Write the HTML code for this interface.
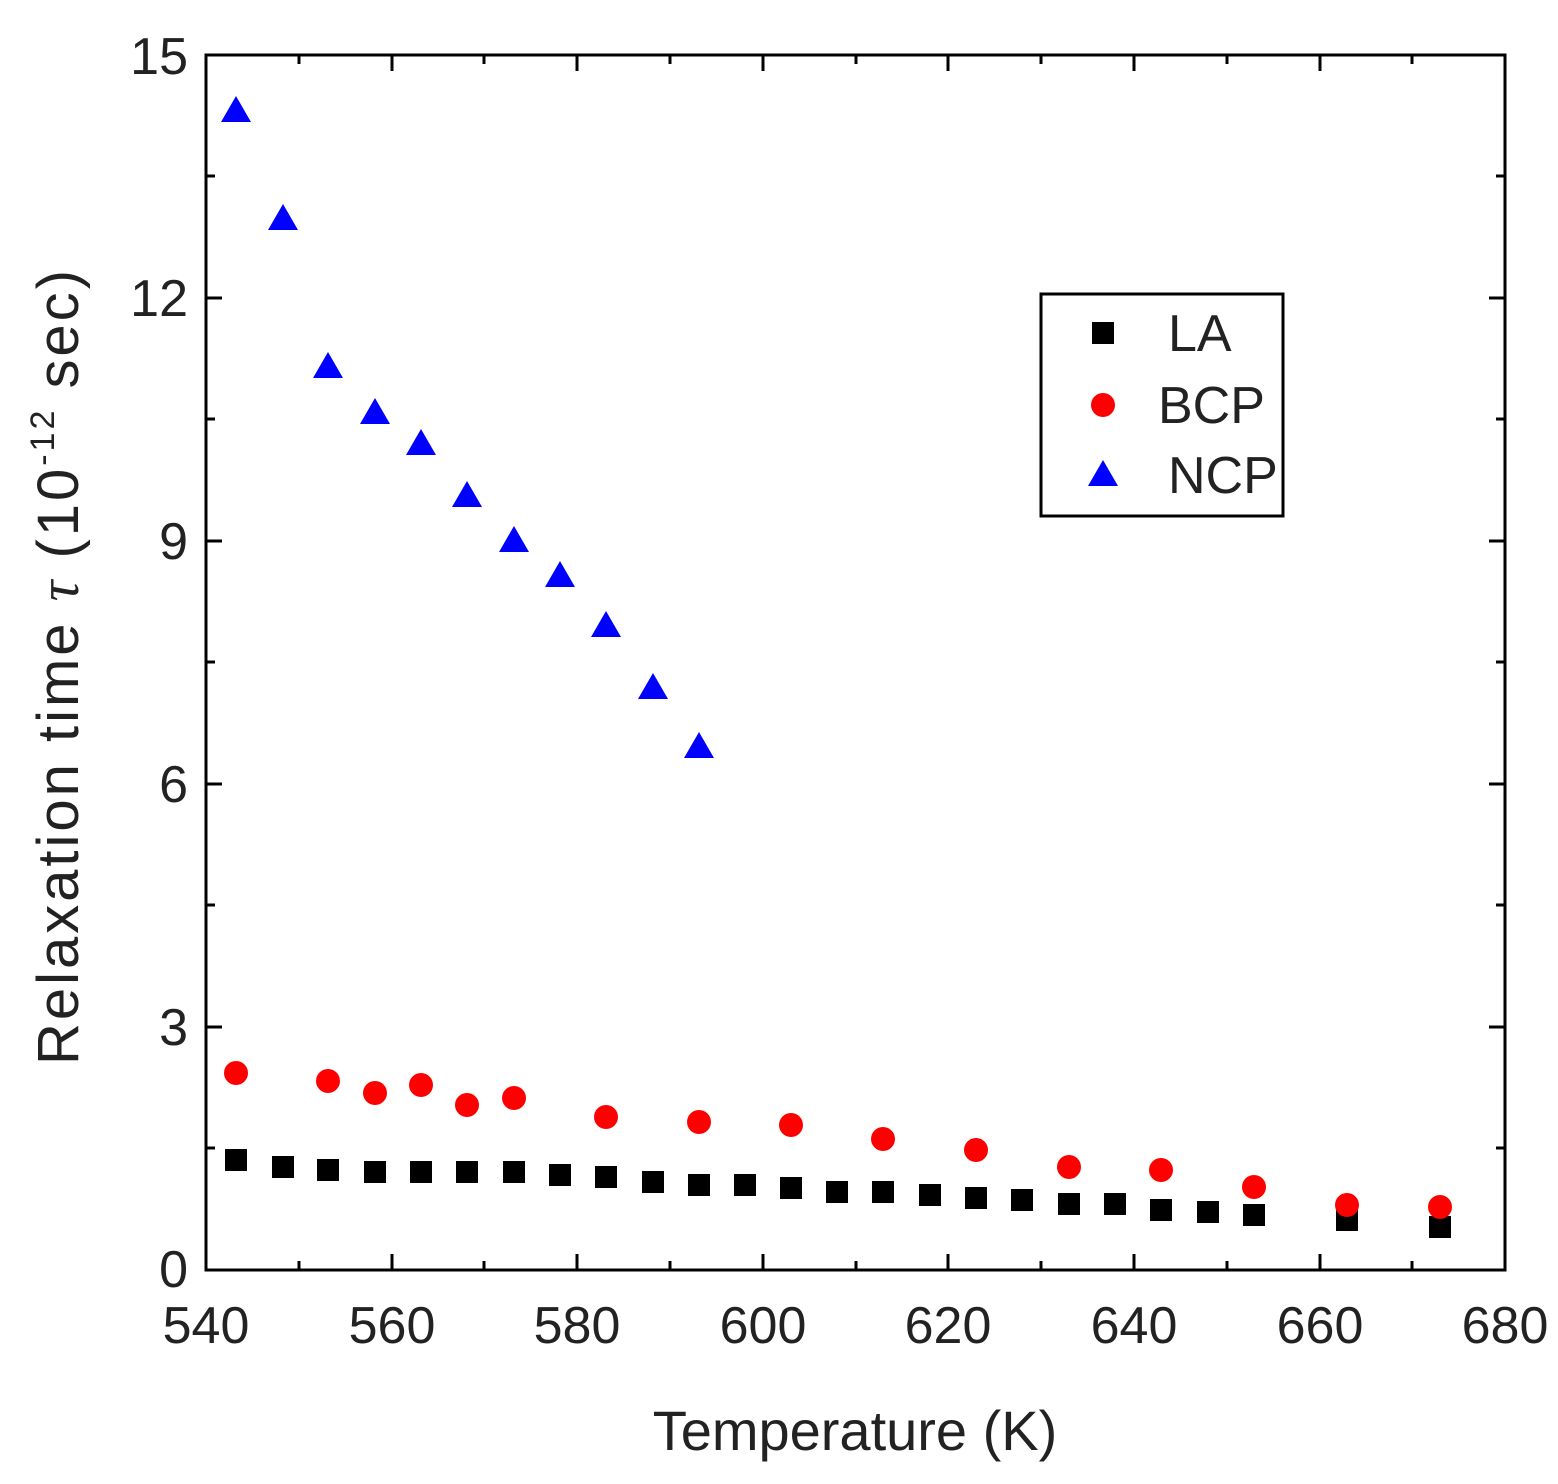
<!DOCTYPE html>
<html><head><style>body{margin:0;background:#fff}svg{display:block}</style></head><body>
<svg width="1558" height="1484" viewBox="0 0 1558 1484" xmlns="http://www.w3.org/2000/svg" font-family="Liberation Sans, sans-serif">
<rect width="1558" height="1484" fill="#fff"/>
<g stroke="#000" stroke-width="3" fill="none">
<rect x="206" y="55" width="1299" height="1215"/>
<path d="
M206,1270v-16M299,1270v-9M392,1270v-16M484,1270v-9M577,1270v-16M670,1270v-9M763,1270v-16M856,1270v-9M948,1270v-16M1041,1270v-9M1134,1270v-16M1227,1270v-9M1320,1270v-16M1412,1270v-9
M206,55v16M299,55v9M392,55v16M484,55v9M577,55v16M670,55v9M763,55v16M856,55v9M948,55v16M1041,55v9M1134,55v16M1227,55v9M1320,55v16M1412,55v9
M206,1148h9M206,1027h16M206,905h9M206,784h16M206,662h9M206,541h16M206,419h9M206,298h16M206,176h9
M1505,1148h-9M1505,1027h-16M1505,905h-9M1505,784h-16M1505,662h-9M1505,541h-16M1505,419h-9M1505,298h-16M1505,176h-9"/>
<rect x="1041" y="294" width="242" height="222" stroke-width="3"/>
</g>
<g font-size="52" fill="#222" text-anchor="middle">
<text x="206" y="1343">540</text><text x="392" y="1343">560</text><text x="577" y="1343">580</text><text x="763" y="1343">600</text><text x="948" y="1343">620</text><text x="1134" y="1343">640</text><text x="1320" y="1343">660</text><text x="1505" y="1343">680</text>
</g>
<g font-size="52" fill="#222" text-anchor="end">
<text x="188" y="1287">0</text><text x="188" y="1045">3</text><text x="188" y="802">6</text><text x="188" y="559">9</text><text x="188" y="316">12</text><text x="188" y="74">15</text>
</g>
<text x="855" y="1450" font-size="56" text-anchor="middle" fill="#222">Temperature (K)</text>
<text transform="translate(78,1065) rotate(-90)" font-size="58" fill="#222" textLength="795" lengthAdjust="spacing">Relaxation time <tspan font-style="italic" font-family="Liberation Serif, serif">τ</tspan>  (10<tspan font-size="34" dy="-24">-12</tspan><tspan dy="24"> sec)</tspan></text>
<g fill="#000">
<rect x="225" y="1149" width="22" height="22"/><rect x="272" y="1156" width="22" height="22"/><rect x="317" y="1159" width="22" height="22"/><rect x="364" y="1161" width="22" height="22"/><rect x="410" y="1161" width="22" height="22"/><rect x="456" y="1161" width="22" height="22"/><rect x="503" y="1161" width="22" height="22"/><rect x="549" y="1164" width="22" height="22"/><rect x="595" y="1166" width="22" height="22"/><rect x="642" y="1171" width="22" height="22"/><rect x="688" y="1174" width="22" height="22"/><rect x="734" y="1174" width="22" height="22"/><rect x="780" y="1177" width="22" height="22"/><rect x="826" y="1181" width="22" height="22"/><rect x="872" y="1181" width="22" height="22"/><rect x="919" y="1184" width="22" height="22"/><rect x="965" y="1187" width="22" height="22"/><rect x="1011" y="1189" width="22" height="22"/><rect x="1058" y="1193" width="22" height="22"/><rect x="1104" y="1193" width="22" height="22"/><rect x="1150" y="1199" width="22" height="22"/><rect x="1197" y="1201" width="22" height="22"/><rect x="1243" y="1204" width="22" height="22"/><rect x="1336" y="1209" width="22" height="22"/><rect x="1429" y="1216" width="22" height="22"/>
<rect x="1092" y="322" width="22" height="22"/>
</g>
<g fill="#f00">
<circle cx="236" cy="1073" r="12"/><circle cx="328" cy="1081" r="12"/><circle cx="375" cy="1093" r="12"/><circle cx="421" cy="1085" r="12"/><circle cx="467" cy="1105" r="12"/><circle cx="514" cy="1098" r="12"/><circle cx="606" cy="1117" r="12"/><circle cx="699" cy="1122" r="12"/><circle cx="791" cy="1125" r="12"/><circle cx="883" cy="1139" r="12"/><circle cx="976" cy="1150" r="12"/><circle cx="1069" cy="1167" r="12"/><circle cx="1161" cy="1170" r="12"/><circle cx="1254" cy="1187" r="12"/><circle cx="1347" cy="1205" r="12"/><circle cx="1440" cy="1207" r="12"/>
<circle cx="1103" cy="405" r="12"/>
</g>
<g fill="#00f">
<path d="M236,96l15,26h-30zM283,204l15,26h-30zM328,352l15,26h-30zM375,398l15,26h-30zM421,429l15,26h-30zM467,481l15,26h-30zM514,526l15,26h-30zM560,561l15,26h-30zM606,611l15,26h-30zM653,673l15,26h-30zM699,732l15,26h-30zM1103,460l15,26h-30z"/>
</g>
<g font-size="52" fill="#222">
<text x="1168" y="351">LA</text><text x="1158" y="423">BCP</text><text x="1168" y="493">NCP</text>
</g>
</svg>
</body></html>
